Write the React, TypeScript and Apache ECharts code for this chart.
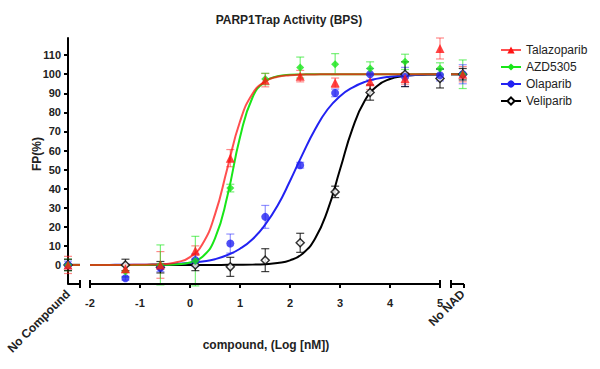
import React, { useEffect, useRef } from 'react';
import * as echarts from 'echarts';

const TITLE = 'PARP1Trap Activity (BPS)';
const Y_NAME = 'FP(%)';
const X_NAME = 'compound, (Log [nM])';
const DRUGS = ['Talazoparib', 'AZD5305', 'Olaparib', 'Veliparib'];
const COLORS = ['#ff1414', '#18e618', '#2222f2', '#000000'];
const ERR_COLORS = ['rgba(255,40,40,0.55)', 'rgba(30,230,30,0.6)', 'rgba(40,40,255,0.5)', 'rgba(0,0,0,0.75)'];
const SYMBOLS = ['triangle', 'diamond', 'circle', 'diamond'];
const SYMBOL_SIZES = [9, 8, 8, 8];

const X_TICKS = [-2, -1, 0, 1, 2, 3, 4, 5];
const Y_TICKS = [0, 10, 20, 30, 40, 50, 60, 70, 80, 90, 100, 110];
const X_MIN = -2.44;
const X_MAX = 5.48;
const Y_MIN = -10;
const Y_MAX = 119;

const CONTROL_X = [-2.44, 5.455];
const CONTROL_LABELS = ['No Compound', 'No NAD'];
const CONTROL_SEG_LEFT = [-2.44, -2.2];
const CONTROL_SEG_RIGHT = [5.22, 5.48];
// [start, end, capStart, capEnd]
const AXIS_SEGMENTS = [
  [-2.44, -2.2, 0, 1],
  [-2.0, 5.0, 1, 1],
  [5.22, 5.48, 1, 0],
];

const LOG_CONC = [-1.291, -0.592, 0.107, 0.806, 1.505, 2.204, 2.903, 3.602, 4.301, 5.0];

const TALA_Y = [-2, 0, 7.5, 56, 96.9, 99, 95.5, 96, 97.8, 113.5];
const TALA_ERR = [2, 7, 2.5, 4.5, 3.5, 3, 2.5, 4, 3, 5.5];
const TALA_CTRL = [0, 100];
const TALA_CTRL_ERR = [4.5, 4];

const AZD_Y = [-3.5, 0, 2, 40.3, 97.5, 103.5, 105.3, 103, 106.5, 103];
const AZD_ERR = [3, 10.5, 13, 2, 3, 5.5, 5.5, 3.5, 4, 3];
const AZD_CTRL = [0, 100];
const AZD_CTRL_ERR = [3, 7.5];

const OLA_Y = [-7, -1.5, 2.5, 11.2, 25.2, 52.3, 90.2, 100, 98.6, 99.5];
const OLA_ERR = [1, 2, 3.3, 5, 6, 1.5, 2, 3, 5, 3];
const OLA_CTRL = [0, 100];
const OLA_CTRL_ERR = [2, 5];

const VELI_Y = [0, -1.2, 0, -1, 2.5, 11.6, 38.3, 90.4, 100, 97.8];
const VELI_ERR = [3, 3, 3, 5, 6, 5, 3, 4, 6.5, 5];
const VELI_CTRL = [0, 100];
const VELI_CTRL_ERR = [3, 3];

// fitted curves, read at log steps of 0.25 from -2 to 5
const CURVE_X = [
  -2, -1.75, -1.5, -1.25, -1, -0.75, -0.5, -0.25, 0, 0.25, 0.5, 0.75, 1, 1.25, 1.5,
  1.75, 2, 2.25, 2.5, 2.75, 3, 3.25, 3.5, 3.75, 4, 4.25, 4.5, 4.75, 5,
];
const TALA_CURVE = [
  0, 0, 0, 0.02, 0.06, 0.17, 0.5, 1.5, 4.1, 11, 26.5, 51, 75.2, 89.8, 96.2,
  98.7, 99.5, 99.8, 99.9, 100, 100, 100, 100, 100, 100, 100, 100, 100, 100,
];
const AZD_CURVE = [
  0, 0, 0, 0, 0, 0.03, 0.1, 0.36, 1.3, 4.3, 13.9, 36.4, 67, 87.8, 96.2,
  98.9, 99.7, 99.9, 100, 100, 100, 100, 100, 100, 100, 100, 100, 100, 100,
];
const OLA_CURVE = [
  0, 0, 0.05, 0.08, 0.1, 0.2, 0.3, 0.6, 1.0, 1.8, 3.0, 5.2, 8.5, 13.5, 21,
  31, 44, 58, 71, 81.5, 88.5, 93, 96, 97.7, 98.7, 99.3, 99.6, 99.8, 100,
];
const VELI_CURVE = [
  0, 0, 0, 0, 0, 0, 0, 0, 0, 0, 0, 0.03, 0.06, 0.16, 0.4,
  1.0, 2.4, 5.9, 13.7, 28.5, 50, 71.5, 86.3, 94, 97.5, 99.0, 99.6, 99.8, 99.9,
];

const SETS = [
  { y: TALA_Y, err: TALA_ERR, ctrl: TALA_CTRL, ctrlErr: TALA_CTRL_ERR, curve: TALA_CURVE },
  { y: AZD_Y, err: AZD_ERR, ctrl: AZD_CTRL, ctrlErr: AZD_CTRL_ERR, curve: AZD_CURVE },
  { y: OLA_Y, err: OLA_ERR, ctrl: OLA_CTRL, ctrlErr: OLA_CTRL_ERR, curve: OLA_CURVE },
  { y: VELI_Y, err: VELI_ERR, ctrl: VELI_CTRL, ctrlErr: VELI_CTRL_ERR, curve: VELI_CURVE },
];

const FONT = "'Liberation Sans', Arial, sans-serif";

function errRender(color: string) {
  return (params: any, api: any) => {
    const x = api.value(0);
    const y = api.value(1);
    const e = api.value(2);
    const top = api.coord([x, y + e]);
    const bot = api.coord([x, y - e]);
    const w = 4;
    const st = { stroke: color, lineWidth: 1.2 };
    return {
      type: 'group',
      children: [
        { type: 'line', shape: { x1: top[0], y1: top[1], x2: bot[0], y2: bot[1] }, style: st },
        { type: 'line', shape: { x1: top[0] - w, y1: top[1], x2: top[0] + w, y2: top[1] }, style: st },
        { type: 'line', shape: { x1: bot[0] - w, y1: bot[1], x2: bot[0] + w, y2: bot[1] }, style: st },
      ],
    };
  };
}

function axisSegRender(params: any, api: any) {
  const a = api.coord([api.value(0), Y_MIN]);
  const b = api.coord([api.value(1), Y_MIN]);
  const st = { stroke: '#000', lineWidth: 2 };
  const children: any[] = [
    { type: 'line', shape: { x1: a[0], y1: a[1], x2: b[0], y2: b[1] }, style: st },
  ];
  const c = 4;
  if (api.value(2)) children.push({ type: 'line', shape: { x1: a[0], y1: a[1] - c, x2: a[0], y2: a[1] + c }, style: st });
  if (api.value(3)) children.push({ type: 'line', shape: { x1: b[0], y1: b[1] - c, x2: b[0], y2: b[1] + c }, style: st });
  return { type: 'group', children };
}

function buildOption() {
  const series: any[] = [];
  SETS.forEach((s, i) => {
    const isVeli = i === 3;
    series.push({
      type: 'line',
      name: DRUGS[i],
      data: CURVE_X.map((x, k) => [x, s.curve[k]]),
      smooth: 0.5,
      showSymbol: false,
      symbol: SYMBOLS[i],
      symbolSize: 7,
      z: 3 + (3 - i) * 0.1,
      lineStyle: { color: COLORS[i], width: 2, opacity: i === 0 ? 0.75 : 1 },
      itemStyle: isVeli
        ? { color: '#fff', borderColor: '#000', borderWidth: 1.5 }
        : { color: COLORS[i] },
      silent: true,
    });
  });
  SETS.forEach((s, i) => {
    const isVeli = i === 3;
    const pts = LOG_CONC.map((x, k) => [x, s.y[k], s.err[k]]);
    pts.push([CONTROL_X[0], s.ctrl[0], s.ctrlErr[0]]);
    pts.push([CONTROL_X[1], s.ctrl[1], s.ctrlErr[1]]);
    series.push({
      type: 'custom',
      renderItem: errRender(ERR_COLORS[i]),
      data: pts,
      z: 2,
      clip: false,
      silent: true,
    });
    series.push({
      type: 'line',
      data: [[CONTROL_SEG_LEFT[0], s.ctrl[0]], [CONTROL_SEG_LEFT[1], s.ctrl[0]]],
      showSymbol: false,
      lineStyle: { color: COLORS[i], width: 2, opacity: i === 0 ? 0.75 : 1 },
      z: 3 + (3 - i) * 0.1,
      silent: true,
    });
    series.push({
      type: 'line',
      data: [[CONTROL_SEG_RIGHT[0], s.ctrl[1]], [CONTROL_SEG_RIGHT[1], s.ctrl[1]]],
      showSymbol: false,
      lineStyle: { color: COLORS[i], width: 2, opacity: i === 0 ? 0.75 : 1 },
      z: 3 + (3 - i) * 0.1,
      silent: true,
    });
    series.push({
      type: 'scatter',
      name: DRUGS[i],
      data: pts.map((p) => [p[0], p[1]]),
      symbol: SYMBOLS[i],
      symbolSize: SYMBOL_SIZES[i],
      z: 5 + (3 - i) * 0.1,
      itemStyle: isVeli
        ? { color: '#fff', borderColor: '#000', borderWidth: 1.5 }
        : { color: COLORS[i] },
      silent: true,
    });
  });
  series.push({
    type: 'custom',
    renderItem: axisSegRender,
    data: AXIS_SEGMENTS,
    z: 6,
    clip: false,
    silent: true,
  });

  return {
    animation: false,
    backgroundColor: '#fff',
    textStyle: { fontFamily: FONT },
    title: {
      text: TITLE,
      left: 284,
      top: 9,
      textAlign: 'center',
      textStyle: { fontFamily: FONT, fontSize: 12, fontWeight: 'bold', color: '#222' },
    },
    legend: {
      data: DRUGS,
      orient: 'vertical',
      left: 495,
      top: 39,
      itemWidth: 20,
      itemHeight: 9,
      itemGap: 5,
      textStyle: { fontFamily: FONT, fontSize: 12, color: '#222' },
      selectedMode: false,
    },
    grid: { left: 68, top: 38, width: 396, height: 246, containLabel: false },
    xAxis: [
      {
        type: 'value',
        min: X_MIN,
        max: X_MAX,
        name: X_NAME,
        nameLocation: 'middle',
        nameGap: 55,
        nameTextStyle: { fontFamily: FONT, fontSize: 12, fontWeight: 'bold', color: '#222' },
        axisLine: { show: false, onZero: false },
        splitLine: { show: false },
        axisTick: { show: true, customValues: X_TICKS, length: 4, lineStyle: { color: '#000', width: 2 } },
        axisLabel: {
          customValues: X_TICKS,
          margin: 13,
          fontFamily: FONT,
          fontSize: 11,
          fontWeight: 'bold',
          color: '#222',
        },
      },
      {
        type: 'value',
        min: X_MIN,
        max: X_MAX,
        position: 'bottom',
        axisLine: { show: false, onZero: false },
        splitLine: { show: false },
        axisTick: { show: true, customValues: [5.47], length: 4, lineStyle: { color: '#000', width: 2 } },
        axisLabel: {
          customValues: CONTROL_X,
          rotate: 45,
          margin: 8,
          fontFamily: FONT,
          fontSize: 12,
          fontWeight: 'bold',
          color: '#222',
          formatter: (v: number) => (v < 0 ? CONTROL_LABELS[0] : CONTROL_LABELS[1]),
        },
      },
    ],
    yAxis: {
      type: 'value',
      min: Y_MIN,
      max: Y_MAX,
      interval: 10,
      axisLine: { show: true, onZero: false, lineStyle: { color: '#000', width: 2 } },
      splitLine: { show: false },
      axisTick: { show: true, customValues: Y_TICKS, length: 4, lineStyle: { color: '#000', width: 2 } },
      axisLabel: {
        customValues: Y_TICKS,
        margin: 7,
        fontFamily: FONT,
        fontSize: 11,
        fontWeight: 'bold',
        color: '#222',
      },
    },
    graphic: [
      {
        type: 'text',
        x: 37,
        y: 154,
        rotation: Math.PI / 2,
        style: {
          text: Y_NAME,
          fontFamily: FONT,
          fontSize: 12,
          fontWeight: 'bold',
          fill: '#222',
          align: 'center',
          verticalAlign: 'middle',
        },
      },
    ],
    series,
  };
}

export default function App() {
  const ref = useRef<HTMLDivElement>(null);
  useEffect(() => {
    document.body.style.margin = '0';
    const chart = echarts.init(ref.current!, null, { renderer: 'svg' });
    chart.setOption(buildOption() as any);
    return () => chart.dispose();
  }, []);
  return <div ref={ref} style={{ width: 600, height: 369 }} />;
}
